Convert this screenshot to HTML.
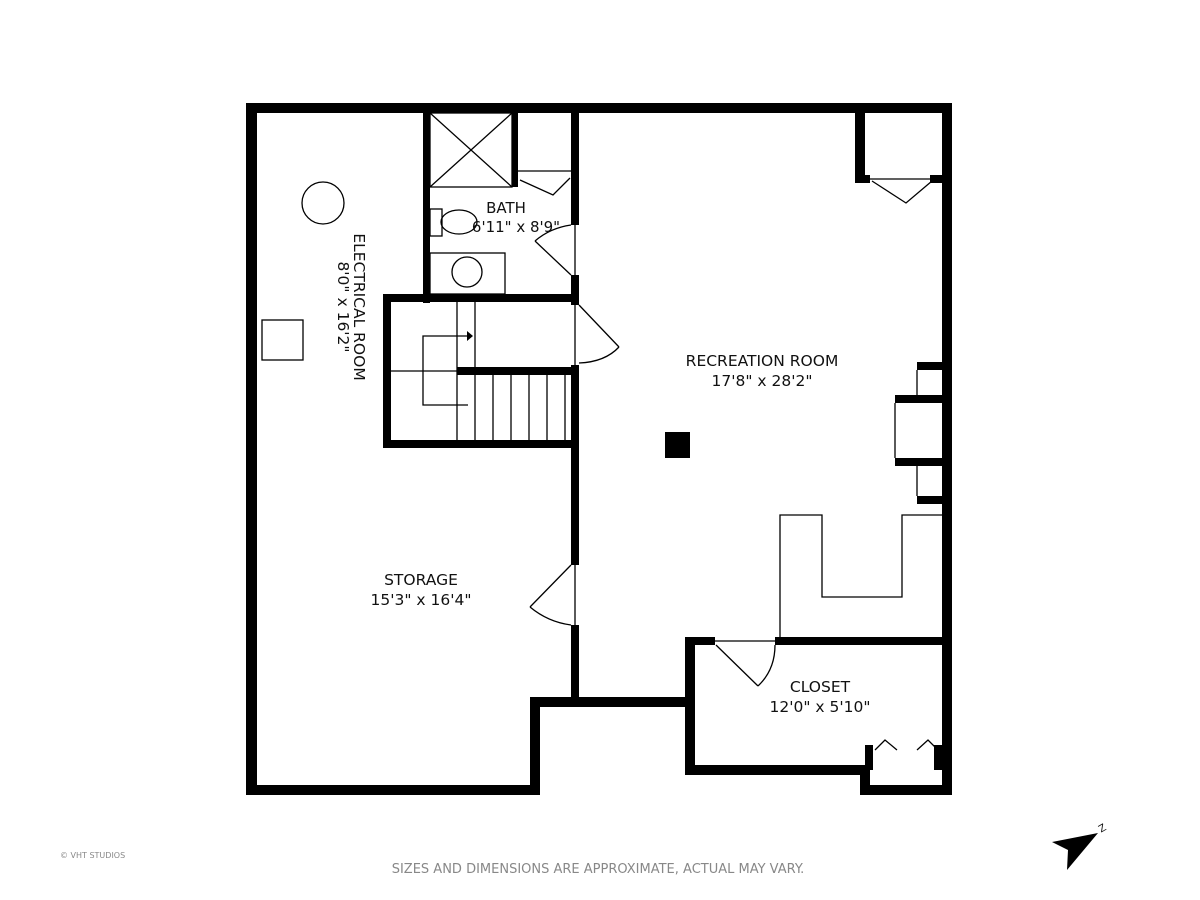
<!DOCTYPE html>
<html><head><meta charset="utf-8"><style>
html,body{margin:0;padding:0;background:#fff;}
svg{display:block;}
text{font-family:"DejaVu Sans","Liberation Sans",sans-serif;fill:#111;}
</style></head><body>
<svg width="1200" height="900" viewBox="0 0 1200 900" xmlns="http://www.w3.org/2000/svg">
<g fill="#000">
<rect x="246" y="103" width="706" height="10"/>
<rect x="246" y="103" width="11" height="692"/>
<rect x="246" y="785" width="294" height="10"/>
<rect x="530" y="697" width="10" height="98"/>
<rect x="530" y="697" width="165" height="10"/>
<rect x="685" y="637" width="10" height="138"/>
<rect x="685" y="765" width="185" height="10"/>
<rect x="860" y="765" width="10" height="30"/>
<rect x="860" y="785" width="92" height="10"/>
<rect x="942" y="103" width="10" height="692"/>
<rect x="423" y="113" width="7" height="190"/>
<rect x="571" y="113" width="8" height="112"/>
<rect x="571" y="275" width="8" height="30"/>
<rect x="571" y="365" width="8" height="200"/>
<rect x="571" y="625" width="8" height="75"/>
<rect x="512" y="113" width="6" height="74"/>
<rect x="383" y="294" width="196" height="8"/>
<rect x="383" y="294" width="8" height="153"/>
<rect x="383" y="440" width="196" height="8"/>
<rect x="457" y="367" width="122" height="8"/>
<rect x="855" y="113" width="10" height="70"/>
<rect x="855" y="175" width="15" height="8"/>
<rect x="930" y="175" width="12" height="8"/>
<rect x="917" y="362" width="25" height="8"/>
<rect x="895" y="395" width="47" height="8"/>
<rect x="895" y="458" width="47" height="8"/>
<rect x="917" y="496" width="25" height="8"/>
<rect x="685" y="637" width="30" height="8"/>
<rect x="775" y="637" width="167" height="8"/>
<rect x="865" y="745" width="8" height="25"/>
<rect x="934" y="745" width="8" height="25"/>
<rect x="665" y="432" width="25" height="26"/>
</g>
<g fill="none" stroke="#000" stroke-width="1.3">
<rect x="430" y="113" width="82" height="74"/>
<line x1="430" y1="113" x2="512" y2="187"/><line x1="512" y1="113" x2="430" y2="187"/>
<line x1="518" y1="171" x2="571" y2="171"/>
<polyline points="520,180 553,195 570,178"/>
<rect x="430" y="209" width="12" height="27"/>
<ellipse cx="459" cy="222" rx="18" ry="12"/>
<rect x="430" y="253" width="75" height="41"/>
<circle cx="467" cy="272" r="15"/>
<line x1="571" y1="275" x2="535" y2="241"/><path d="M535,241 Q550,228 571,225"/>
<line x1="575" y1="225" x2="575" y2="275"/>
<line x1="575" y1="305" x2="575" y2="365"/>
<line x1="579" y1="305" x2="619" y2="347"/><path d="M619,347 Q605,362 579,363"/>
<line x1="457" y1="302" x2="457" y2="440"/>
<line x1="475" y1="302" x2="475" y2="367"/>
<line x1="391" y1="371" x2="457" y2="371"/>
<line x1="475" y1="375" x2="475" y2="440"/><line x1="493" y1="375" x2="493" y2="440"/><line x1="511" y1="375" x2="511" y2="440"/><line x1="529" y1="375" x2="529" y2="440"/><line x1="547" y1="375" x2="547" y2="440"/><line x1="565" y1="375" x2="565" y2="440"/>
<polyline points="468,405 423,405 423,336 468,336"/>
<line x1="575" y1="565" x2="575" y2="625"/>
<line x1="571" y1="565" x2="530" y2="607"/><path d="M530,607 Q548,622 571,625"/>
<line x1="870" y1="179" x2="930" y2="179"/>
<polyline points="872,181 906,203 932,181"/>
<line x1="917" y1="370" x2="917" y2="395"/>
<line x1="895" y1="403" x2="895" y2="458"/>
<line x1="917" y1="466" x2="917" y2="496"/>
<polyline points="780,637 780,515 822,515 822,597 902,597 902,515 942,515"/>
<line x1="715" y1="641" x2="775" y2="641"/>
<line x1="716" y1="645" x2="758" y2="686"/><path d="M758,686 Q775,670 775,645"/>
<polyline points="875,750 885,740 897,750"/><polyline points="917,750 928,740 938,750"/>
<circle cx="323" cy="203" r="21"/>
<rect x="262" y="320" width="41" height="40"/>
</g>
<polygon points="467,331 473,336 467,341" fill="#000"/>
<text x="506" y="213" font-size="15" text-anchor="middle">BATH</text>
<text x="516" y="232" font-size="15" text-anchor="middle">6'11" x 8'9"</text>
<text x="762" y="366" font-size="15.5" text-anchor="middle">RECREATION ROOM</text>
<text x="762" y="386" font-size="15.5" text-anchor="middle">17'8" x 28'2"</text>
<text x="421" y="585" font-size="15.5" text-anchor="middle">STORAGE</text>
<text x="421" y="605" font-size="15.5" text-anchor="middle">15'3" x 16'4"</text>
<text x="820" y="692" font-size="15.5" text-anchor="middle">CLOSET</text>
<text x="820" y="712" font-size="15.5" text-anchor="middle">12'0" x 5'10"</text>
<text transform="translate(354,307) rotate(90)" font-size="15.5" text-anchor="middle">ELECTRICAL ROOM</text>
<text transform="translate(338,307) rotate(90)" font-size="15.5" text-anchor="middle">8'0" x 16'2"</text>
<text x="598" y="873" font-size="13" style="fill:#888" text-anchor="middle">SIZES AND DIMENSIONS ARE APPROXIMATE, ACTUAL MAY VARY.</text>
<text x="60" y="858" font-size="8" style="fill:#888">© VHT STUDIOS</text>
<polygon points="1052,842 1098,833 1067,870 1068,850" fill="#000"/>
<text transform="translate(1104,831) rotate(-30)" font-size="10" text-anchor="middle">Z</text>
</svg>
</body></html>
